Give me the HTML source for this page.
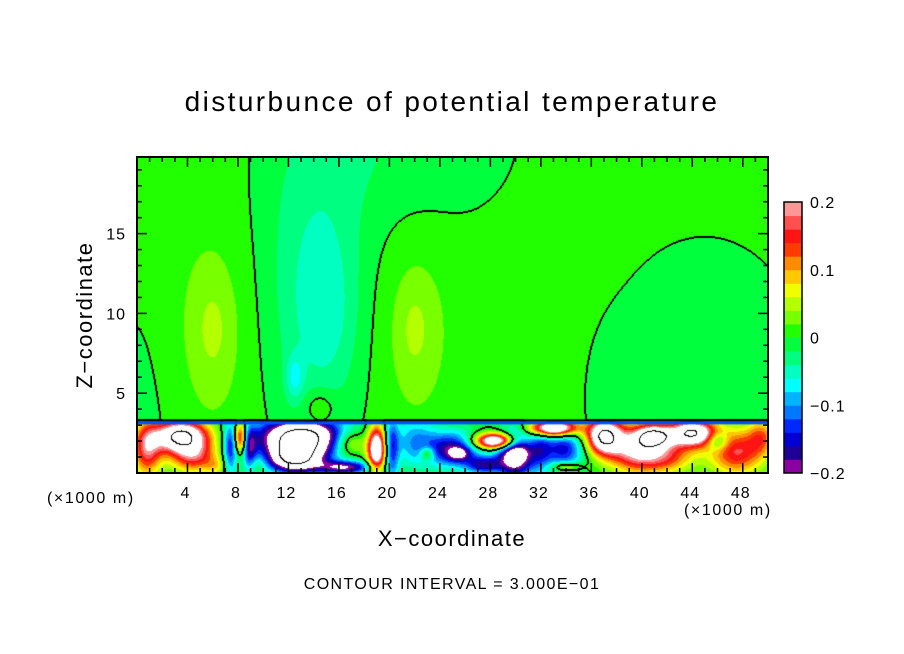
<!DOCTYPE html>
<html><head><meta charset="utf-8">
<style>
html,body{margin:0;padding:0;background:#fff;}
#wrap{position:relative;width:904px;height:654px;overflow:hidden;font-family:"Liberation Sans",sans-serif;color:#000;}
.t{position:absolute;white-space:nowrap;}
canvas{position:absolute;}
</style></head>
<body>
<div id="wrap">
<div class="t" style="left:0;width:904px;text-align:center;top:86px;font-size:28px;letter-spacing:2.4px;">disturbunce of potential temperature</div>
<div class="t" style="left:85px;top:315px;font-size:22px;letter-spacing:1.5px;transform:translate(-50%,-50%) rotate(-90deg);">Z−coordinate</div>
<div class="t" style="left:0;width:904px;text-align:center;top:526px;font-size:22px;letter-spacing:1.5px;">X−coordinate</div>
<div class="t" style="left:0;width:904px;text-align:center;top:576px;font-size:16px;letter-spacing:1.4px;">CONTOUR INTERVAL = 3.000E−01</div>
<div class="t" style="left:47px;top:490px;font-size:16px;letter-spacing:1.6px;">(×1000 m)</div>
<div class="t" style="left:684px;top:502px;font-size:16px;letter-spacing:1.6px;">(×1000 m)</div>
<canvas id="field" width="631" height="316" style="left:137px;top:157px;"></canvas>
<svg id="axes" width="904" height="654" style="position:absolute;left:0;top:0;"></svg>
</div>
<script>
// ---- data ----
const xDomain = [0, 50];
const zDomain = [0, 19.8];
const xTicks = [4, 8, 12, 16, 20, 24, 28, 32, 36, 40, 44, 48];
const zTicks = [5, 10, 15];
const levels = [-0.2,-0.18,-0.16,-0.14,-0.12,-0.1,-0.08,-0.06,-0.04,-0.02,0,0.02,0.04,0.06,0.08,0.1,0.12,0.14,0.16,0.18,0.2];
const levelColors = ["#8a00a0","#1e0096","#0000d2","#0028ff","#0078ff","#00b4ff","#00ffff","#00ffc0","#00ff80","#00ff3c","#22ff00","#78ff00","#b4ff00","#f0ff00","#ffc800","#ff8c00","#ff3c00","#ff1414","#ff5050","#ff9696"];
const cbLabels = ["0.2","0.1","0","−0.1","−0.2"];
const cbLabelValues = [0.2, 0.1, 0, -0.1, -0.2];
const layerTop = 3.3;
// upper-layer blobs: x, z, sx, sz, amplitude
const upperBase = 0.008;
const upperX  = [14, 15, 12.5, 21, 45, 38, 0, 6, 6, 22, 22, 14.5];
const upperZ  = [12, 10, 6, 21, 6, 4, 2, 9, 9, 9, 9, 4.2];
const upperSX = [3.0, 1.6, 0.5, 6, 6, 1.5, 2.2, 2.4, 1.0, 2.2, 0.9, 0.9];
const upperSZ = [7, 3.5, 1, 4, 6.5, 3, 7, 4.8, 2.2, 4.5, 2.0, 0.8];
const upperA  = [-0.045, -0.025, -0.05, -0.025, -0.02, -0.01, -0.015, 0.02, 0.02, 0.02, 0.02, 0.03];
// lower-layer blobs
const lowX  = [0.8, 3.5, 4.5, 6.3, 7.4, 8.2, 8.9, 9.6, 13, 12.5, 16.5, 16.8, 19, 20.2, 22, 23, 25, 25.5, 27.5, 28.5, 30, 32, 33.8, 33, 34, 37, 39.5, 42, 44, 46, 47.5, 49.5, 41];
const lowZ  = [1.5, 2.3, 1.0, 0.4, 1.5, 2.2, 1.5, 0.6, 2.2, 0.8, 0.35, 1.9, 1.5, 1.5, 2, 1.2, 1.5, 1.2, 0.5, 2.0, 1.2, 1.5, 1.5, 2.8, 0.4, 2.3, 1.5, 1, 2.5, 2, 1.3, 2.3, 2.3];
const lowSX = [0.8, 1.5, 1.3, 0.6, 0.4, 0.35, 0.4, 0.5, 2.5, 1.5, 1.5, 1, 0.5, 0.4, 1.2, 0.4, 1.5, 0.6, 1, 1.2, 1, 0.6, 1.2, 1.3, 0.8, 1, 1.5, 1.5, 1.3, 0.6, 1.5, 0.8, 1];
const lowSZ = [1.2, 0.7, 0.7, 0.4, 1.2, 0.7, 1, 0.4, 0.9, 0.6, 0.3, 0.6, 1, 1.5, 1.2, 0.3, 0.8, 0.3, 0.4, 0.35, 1, 1.2, 0.9, 0.35, 0.2, 0.8, 1, 0.7, 0.6, 0.4, 1, 0.8, 0.5];
const lowA  = [0.17, 0.32, 0.15, 0.05, -0.14, 0.22, -0.12, 0.03, -0.35, -0.25, -0.19, 0.12, 0.3, -0.12, -0.09, 0.1, -0.17, -0.1, -0.15, 0.33, -0.28, -0.08, -0.15, 0.35, 0.1, 0.3, 0.2, 0.12, 0.3, -0.1, 0.16, 0.1, 0.25];

// ---- axis functions ----
const PX0=137, PX1=768, PY0=157, PY1=473;
const xs = x => PX0 + (x - xDomain[0]) / (xDomain[1]-xDomain[0]) * (PX1-PX0);
const zs = z => PY1 - (z - zDomain[0]) / (zDomain[1]-zDomain[0]) * (PY1-PY0);
const xInv = px => xDomain[0] + (px - PX0) / (PX1-PX0) * (xDomain[1]-xDomain[0]);
const zInv = py => zDomain[0] + (PY1 - py) / (PY1-PY0) * (zDomain[1]-zDomain[0]);

function field(x, z) {
  let v, X, Z, SX, SZ, A;
  if (z > layerTop) { v = upperBase; X=upperX; Z=upperZ; SX=upperSX; SZ=upperSZ; A=upperA; }
  else { v = 0; X=lowX; Z=lowZ; SX=lowSX; SZ=lowSZ; A=lowA; }
  for (let i=0;i<X.length;i++){
    const dx=(x-X[i])/SX[i], dz=(z-Z[i])/SZ[i];
    v += A[i]*Math.exp(-0.5*(dx*dx+dz*dz));
  }
  return v;
}
function hex(c){return [parseInt(c.substr(1,2),16),parseInt(c.substr(3,2),16),parseInt(c.substr(5,2),16)];}
const rgb = levelColors.map(hex);

// ---- draw field ----
const cv=document.getElementById('field'), ctx=cv.getContext('2d');
const W=cv.width, H=cv.height, img=ctx.createImageData(W,H);
const vals=new Float32Array(W*H);
for(let j=0;j<H;j++)for(let i=0;i<W;i++){vals[j*W+i]=field(xInv(PX0+i+0.5), zInv(PY0+j+0.5));}
for(let j=0;j<H;j++)for(let i=0;i<W;i++){
  const v=vals[j*W+i]; let c;
  if(v<levels[0]||v>levels[levels.length-1]) c=[255,255,255];
  else { let k=Math.floor((v-levels[0])/0.02); if(k>19)k=19; c=rgb[k]; }
  let line=false;
  const z=zInv(PY0+j+0.5);
  const upper = z>layerTop;
  const lvls = upper ? [0] : [-0.3, 0.3, 0];
  for(const L of lvls){
    const s=v>=L;
    if(i+1<W && (vals[j*W+i+1]>=L)!==s) line=true;
    if(j+1<H && (vals[(j+1)*W+i]>=L)!==s) line=true;
    if(upper || L===0){
      if(i>0 && (vals[j*W+i-1]>=L)!==s) line=true;
      if(j>0 && (vals[(j-1)*W+i]>=L)!==s) line=true;
    }
  }
  if(line) c=[0,0,0];
  const o=(j*W+i)*4; img.data[o]=c[0];img.data[o+1]=c[1];img.data[o+2]=c[2];img.data[o+3]=255;
}
ctx.putImageData(img,0,0);
const by = zs(layerTop)-PY0;
ctx.fillStyle="#0050ff"; ctx.fillRect(0,by+1,W,3);
ctx.fillStyle="#000"; ctx.fillRect(0,by-1,W,2);

// ---- axes svg ----
const svg=document.getElementById('axes'); const NS="http://www.w3.org/2000/svg";
function mk(tag,attrs,parent){const e=document.createElementNS(NS,tag);for(const k in attrs)e.setAttribute(k,attrs[k]);(parent||svg).appendChild(e);return e;}
const frame=mk('rect',{x:PX0,y:PY0,width:PX1-PX0,height:PY1-PY0,fill:'none',stroke:'#000','stroke-width':2});


for(let x=1;x<50;x++){
  const big = x%4===0, len = big?10:5, X=xs(x);
  mk('line',{x1:X,x2:X,y1:PY1,y2:PY1-len,stroke:'#000','stroke-width':1.5});
  mk('line',{x1:X,x2:X,y1:PY0,y2:PY0+len,stroke:'#000','stroke-width':1.5});
}
for(let z=1;z<20;z++){
  const big = z%5===0, len = big?10:5, Y=zs(z);
  mk('line',{x1:PX0,x2:PX0+len,y1:Y,y2:Y,stroke:'#000','stroke-width':1.5});
  mk('line',{x1:PX1,x2:PX1-len,y1:Y,y2:Y,stroke:'#000','stroke-width':1.5});
}
xTicks.forEach(t=>{
  const e=mk('text',{x:xs(t)-2,y:498,'text-anchor':'middle','font-size':16,'letter-spacing':1,'font-family':'Liberation Sans, sans-serif'});
  e.textContent=t;
  
  
});
zTicks.forEach(t=>{
  const e=mk('text',{x:126,y:zs(t)+6,'text-anchor':'end','font-size':16,'letter-spacing':1,'font-family':'Liberation Sans, sans-serif'});
  e.textContent=t;
  
  
});
const CB_X=784, CB_W=18, CB_T=202, CB_B=473;
const cbs = v => CB_B - (v-levels[0])/(levels[levels.length-1]-levels[0])*(CB_B-CB_T);
for(let k=0;k<levelColors.length;k++){
  const y1=cbs(levels[k+1]), y0=cbs(levels[k]);
  const r=mk('rect',{x:CB_X,y:y1,width:CB_W,height:y0-y1+0.5,fill:levelColors[k]});
  
  
}
const cbf=mk('rect',{x:CB_X,y:CB_T,width:CB_W,height:CB_B-CB_T,fill:'none',stroke:'#000','stroke-width':1.5});


cbLabels.forEach((l,i)=>{
  const e=mk('text',{x:810,y:cbs(cbLabelValues[i])+6,'font-size':16,'letter-spacing':1,'font-family':'Liberation Sans, sans-serif'});
  e.textContent=l;
  
  
});
</script>
</body></html>
